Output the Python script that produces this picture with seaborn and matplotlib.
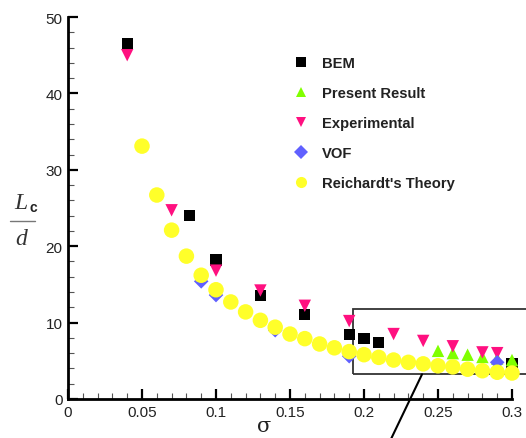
import matplotlib
matplotlib.use("Agg")
import matplotlib.pyplot as plt
import seaborn as sns
import pandas as pd
from matplotlib.lines import Line2D
from matplotlib.ticker import MultipleLocator

sns.set_theme(style="white")
plt.rcParams['font.family'] = ['Liberation Sans', 'DejaVu Sans']

# ---- data ----
bem_x = [0.04, 0.082, 0.10, 0.13, 0.16, 0.19, 0.20, 0.21, 0.30]
bem_y = [46.5, 24.0, 18.2, 13.5, 11.1, 8.5, 7.9, 7.4, 4.7]

present_x = [0.25, 0.26, 0.27, 0.28, 0.29, 0.30]
present_y = [6.3, 6.0, 5.8, 5.5, 5.3, 5.1]

exp_x = [0.04, 0.07, 0.10, 0.13, 0.16, 0.19, 0.22, 0.24, 0.26, 0.28, 0.29]
exp_y = [45.0, 24.7, 16.8, 14.2, 12.2, 10.2, 8.5, 7.6, 6.9, 6.1, 6.0]

vof_x = [0.09, 0.10, 0.14, 0.19, 0.29]
vof_y = [15.4, 13.6, 9.0, 5.6, 4.8]

reich_x = [0.05, 0.06, 0.07, 0.08, 0.09, 0.10, 0.11, 0.12, 0.13, 0.14, 0.15,
           0.16, 0.17, 0.18, 0.19, 0.20, 0.21, 0.22, 0.23, 0.24, 0.25, 0.26,
           0.27, 0.28, 0.29, 0.30]
reich_y = [33.1, 26.7, 22.1, 18.7, 16.2, 14.3, 12.7, 11.4, 10.3, 9.4, 8.5,
           7.9, 7.2, 6.7, 6.2, 5.8, 5.45, 5.1, 4.8, 4.6, 4.35, 4.2, 3.9,
           3.7, 3.5, 3.4]

labels = ["BEM", "Present Result", "Experimental", "VOF", "Reichardt's Theory"]
xticks = [0, 0.05, 0.1, 0.15, 0.2, 0.25, 0.3]
xticklabels = ["0", "0.05", "0.1", "0.15", "0.2", "0.25", "0.3"]
yticks = [0, 10, 20, 30, 40, 50]

series = [
    (bem_x, bem_y, labels[0], "s", "#000000", 64),
    (present_x, present_y, labels[1], "^", "#80ff00", 80),
    (exp_x, exp_y, labels[2], "v", "#ff1080", 80),
    (vof_x, vof_y, labels[3], "D", "#6060ff", 55),
    (reich_x, reich_y, labels[4], "o", "#ffff2a", 125),
]

fig = plt.figure(figsize=(5.26, 4.39), dpi=100)
ax = fig.add_axes([68/526, 1-400/439, (512-68)/526, (400-18)/439])

for x, y, lab, m, c, s in series:
    df = pd.DataFrame({"x": x, "y": y})
    sns.scatterplot(data=df, x="x", y="y", marker=m, color=c, s=s,
                    edgecolor="none", linewidth=0, ax=ax, label=lab,
                    clip_on=False, zorder=3)

ax.set_xlim(0, 0.3)
ax.set_ylim(0, 50)
ax.set_xticks(xticks)
ax.set_xticklabels(xticklabels)
ax.set_yticks(yticks)
ax.xaxis.set_minor_locator(MultipleLocator(0.01))
ax.yaxis.set_minor_locator(MultipleLocator(2))
ax.tick_params(which="major", direction="in", length=7, width=1.6,
               labelsize=11, color="black", pad=4, labelcolor="#222222")
ax.tick_params(which="minor", direction="in", length=4, width=0.8,
               color="#555555")
ax.tick_params(axis="x", which="both", bottom=True)
ax.tick_params(axis="y", which="both", left=True)
for side in ["top", "right"]:
    ax.spines[side].set_visible(False)
for side in ["left", "bottom"]:
    ax.spines[side].set_linewidth(2)
    ax.spines[side].set_color("black")
ax.set_xlabel("")
ax.set_ylabel("")

handles = [Line2D([], [], linestyle="none", marker=m, color=c,
                  markersize=(8 if m == "o" else 7), markeredgewidth=0)
           for _, _, _, m, c, _ in series]
leg = ax.legend(handles, labels, loc="upper left",
                bbox_to_anchor=(288/526, 1-51/439), bbox_transform=fig.transFigure,
                frameon=False, labelspacing=1.09, handlelength=1.0,
                handletextpad=0.9, borderaxespad=0,
                prop={"weight": "bold", "size": 10.6})
for t in leg.get_texts():
    t.set_color("#222222")

# y label as fraction
fig.text(21/526, 1-204/439, "L", fontsize=17, family="Liberation Serif",
         style="italic", ha="center", va="center", color="#333333")
fig.text(33/526, 1-208/439, "c", fontsize=10, weight="bold",
         ha="center", va="center", color="#222222")
fig.add_artist(Line2D([10/526, 35/526], [1-222/439, 1-222/439],
                      transform=fig.transFigure, color="#777777", lw=1))
fig.text(21/526, 1-240/439, "d", fontsize=17, family="Liberation Serif",
         style="italic", ha="center", va="center", color="#333333")

# x label (sigma)
fig.text(264/526, 1-427/439, "σ", fontsize=15, family="DejaVu Serif",
         ha="center", va="center", color="#222222")

# zoom box and connector
rect = plt.Rectangle((0.1926, 3.23), 0.15, 11.78 - 3.23, fill=False,
                     edgecolor="#333333", lw=1.3, clip_on=False, zorder=2)
ax.add_patch(rect)
ax.add_line(Line2D([0.2392, 0.2176], [3.23, -5.5], color="black", lw=1.5,
                   clip_on=False))

fig.savefig("out.png", dpi=100)
